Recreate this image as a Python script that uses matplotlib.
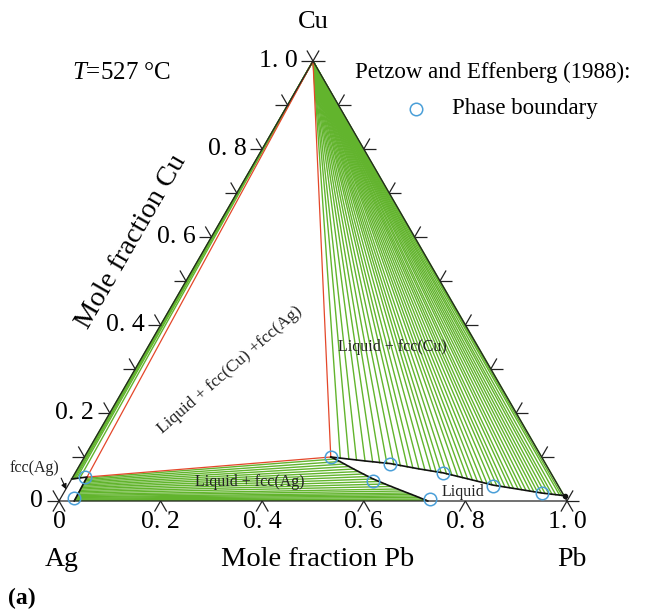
import numpy as np
import matplotlib
matplotlib.use('Agg')
import matplotlib.pyplot as plt

plt.rcParams['font.family'] = ['Liberation Serif', 'DejaVu Serif']
plt.rcParams['mathtext.fontset'] = 'custom'
plt.rcParams['mathtext.rm'] = 'Liberation Serif'
plt.rcParams['mathtext.it'] = 'Liberation Serif:italic'

# ---------------- data (mole fractions: x_Pb, x_Cu) ----------------
# three-phase triangle Liquid + fcc(Cu) + fcc(Ag)
tri3_pb = [0.0, 0.028, 0.485, 0.0]
tri3_cu = [1.0, 0.0545, 0.100, 1.0]

# Liquid + fcc(Cu) tie lines: liquid ends (fcc(Cu) end = pure Cu)
tieLC_pb = [0.505, 0.523, 0.539, 0.557, 0.573, 0.588, 0.603, 0.618, 0.632, 0.647,
            0.659, 0.672, 0.685, 0.698, 0.709, 0.720, 0.732, 0.744, 0.757, 0.768,
            0.779, 0.790, 0.801, 0.812, 0.823, 0.834, 0.844, 0.853, 0.862, 0.872,
            0.880, 0.890, 0.898, 0.907, 0.916, 0.924, 0.932, 0.940, 0.948, 0.956,
            0.963, 0.971, 0.979, 0.984, 0.989]
tieLC_cu = [0.0975, 0.0952, 0.0932, 0.0909, 0.0889, 0.0868, 0.0850, 0.0825, 0.0800, 0.0775,
            0.0752, 0.0730, 0.0707, 0.0684, 0.0664, 0.0643, 0.0618, 0.0589, 0.0559, 0.0530,
            0.0505, 0.0477, 0.0450, 0.0423, 0.0395, 0.0368, 0.0352, 0.0334, 0.0318, 0.0302,
            0.0289, 0.0273, 0.0259, 0.0243, 0.0227, 0.0214, 0.0200, 0.0186, 0.0173, 0.0164,
            0.0152, 0.0141, 0.0130, 0.0123, 0.0114]

# fcc(Cu) + fcc(Ag) tie lines: fcc(Ag) ends (fcc(Cu) end = pure Cu)
tieCA_pb = [0.000, 0.002, 0.004, 0.006, 0.009, 0.015]
tieCA_cu = [0.0500, 0.0502, 0.0505, 0.0508, 0.0515, 0.0524]

# Liquid + fcc(Ag) tie lines: liquid ends and fcc(Ag) ends
tieLA_liq_pb = [0.495, 0.508, 0.520, 0.532, 0.544, 0.556, 0.569, 0.581, 0.594, 0.608,
                0.623, 0.638, 0.653, 0.665, 0.677, 0.687, 0.696, 0.705, 0.714, 0.722]
tieLA_liq_cu = [0.0955, 0.0898, 0.0841, 0.0784, 0.0727, 0.0670, 0.0614, 0.0557, 0.0500, 0.0443,
                0.0386, 0.0330, 0.0273, 0.0227, 0.0182, 0.0148, 0.0114, 0.0080, 0.0045, 0.0018]
tieLA_sol_pb = [0.028, 0.028, 0.028, 0.028, 0.029, 0.029, 0.029, 0.029, 0.029, 0.029,
                0.029, 0.029, 0.029, 0.030, 0.030, 0.030, 0.030, 0.030, 0.030, 0.030]
tieLA_sol_cu = [0.0520, 0.0489, 0.0458, 0.0427, 0.0396, 0.0365, 0.0335, 0.0304, 0.0273, 0.0241,
                0.0210, 0.0180, 0.0149, 0.0124, 0.0099, 0.0081, 0.0062, 0.0044, 0.0025, 0.0010]

# phase boundaries
liq_upper_pb = [0.485, 0.557, 0.610, 0.672, 0.724, 0.779, 0.837, 0.890, 0.942, 0.990]
liq_upper_cu = [0.100, 0.091, 0.085, 0.073, 0.064, 0.0505, 0.036, 0.027, 0.018, 0.012]
liq_lower_pb = [0.485, 0.508, 0.534, 0.556, 0.591, 0.608, 0.630, 0.659, 0.696, 0.726]
liq_lower_cu = [0.100, 0.0898, 0.0773, 0.0670, 0.0511, 0.0443, 0.0358, 0.0250, 0.0114, 0.0]
fccAg_pb = [0.0, 0.028, 0.030]
fccAg_cu = [0.050, 0.0545, 0.0]

# experimental phase boundary points (Petzow and Effenberg, 1988)
exp_pb = [0.485, 0.609, 0.724, 0.837, 0.942, 0.595, 0.728, 0.024, 0.026]
exp_cu = [0.100, 0.0852, 0.0636, 0.0341, 0.0182, 0.0455, 0.0045, 0.0545, 0.0068]

# axes ticks
cu_ticks = [0.0, 0.1, 0.2, 0.3, 0.4, 0.5, 0.6, 0.7, 0.8, 0.9, 1.0]
cu_labels = {0.0: '0', 0.2: '0. 2', 0.4: '0. 4', 0.6: '0. 6', 0.8: '0. 8', 1.0: '1. 0'}
pb_ticks = [0.0, 0.2, 0.4, 0.6, 0.8, 1.0]
pb_labels = ['0', '0. 2', '0. 4', '0. 6', '0. 8', '1. 0']

# ---------------- styles ----------------
GREEN = '#62b42d'
RED = '#e4472a'
BLUE = '#4a9fd8'
S3 = np.sqrt(3) / 2


def tern(pb, cu):
    pb = np.asarray(pb, float)
    cu = np.asarray(cu, float)
    return pb + cu / 2.0, cu * S3


fig = plt.figure(figsize=(6.46, 6.09), dpi=100)
ax = fig.add_axes([0, 0, 1, 1])
ax.set_xlim(-59 / 508, 587 / 508)
ax.set_ylim(-108 / 508, 501 / 508)
ax.axis('off')

# tie lines
cx, cy = tern(0.0, 1.0)
for p, c in zip(tieLC_pb, tieLC_cu):
    x, y = tern(p, c)
    ax.plot([cx, x], [cy, y], color=GREEN, lw=1.0, zorder=2)
for p, c in zip(tieCA_pb, tieCA_cu):
    x, y = tern(p, c)
    ax.plot([cx, x], [cy, y], color=GREEN, lw=1.0, zorder=2)
for pl, cl, ps, cs in zip(tieLA_liq_pb, tieLA_liq_cu, tieLA_sol_pb, tieLA_sol_cu):
    x1, y1 = tern(ps, cs)
    x2, y2 = tern(pl, cl)
    ax.plot([x1, x2], [y1, y2], color=GREEN, lw=1.0, zorder=2)

# three-phase triangle
x, y = tern(tri3_pb, tri3_cu)
ax.plot(x, y, color=RED, lw=0.9, zorder=3)

# boundaries
for bp, bc in [(liq_upper_pb, liq_upper_cu), (liq_lower_pb, liq_lower_cu), (fccAg_pb, fccAg_cu)]:
    x, y = tern(bp, bc)
    ax.plot(x, y, color='#111111', lw=1.2, zorder=4)
x, y = tern(liq_upper_pb[-1], liq_upper_cu[-1])
ax.plot([x], [y], marker='o', color='#111111', ms=3, zorder=5)

# triangle frame
x, y = tern([0, 1, 0, 0], [0, 0, 1, 0])
ax.plot(x, y, color='#222222', lw=0.9, zorder=4)

# experimental points
x, y = tern(exp_pb, exp_cu)
ax.plot(x, y, 'o', ms=9, mfc='none', mec=BLUE, mew=1.1, zorder=6)

# ticks
L = 0.024
def tick(px, py, angles):
    for a in angles:
        r = np.deg2rad(a)
        ax.plot([px, px + L * np.cos(r)], [py, py + L * np.sin(r)],
                color='#222222', lw=0.9, zorder=5, solid_capstyle='butt')

for c in cu_ticks:
    # left axis (Ag-Cu edge)
    x, y = tern(0.0, c)
    tick(x, y, [180, 120])
    if c in cu_labels:
        ax.text(x - 0.031, y, cu_labels[c], ha='right', va='center', fontsize=18.5)
    # right axis (Pb-Cu edge)
    x, y = tern(1.0 - c, c)
    tick(x, y, [0, 60])
for p, lab in zip(pb_ticks, pb_labels):
    x, y = tern(p, 0.0)
    tick(x, y, [240, 300])
    ax.text(x, -0.042, lab, ha='center', va='center', fontsize=18.5)

# axis titles and corner labels
ax.text(0.5, 0.943, 'Cu', ha='center', va='center', fontsize=19)
ax.text(0.006, -0.116, 'Ag', ha='center', va='center', fontsize=20)
ax.text(1.010, -0.116, 'Pb', ha='center', va='center', fontsize=20)
ax.text(0.510, -0.116, 'Mole fraction Pb', ha='center', va='center', fontsize=20.5)
ax.text(0.142, 0.510, 'Mole fraction Cu', ha='center', va='center', fontsize=20.5,
        rotation=60, rotation_mode='anchor')
ax.text(-0.100, -0.191, '(a)', ha='left', va='center', fontsize=17, fontweight='bold')

ax.text(0.026, 0.843, r'$T$=527 °C', ha='left', va='center', fontsize=18)
ax.text(0.583, 0.843, 'Petzow and Effenberg (1988):', ha='left', va='center', fontsize=16.5)
ax.plot([0.703], [0.772], 'o', ms=9, mfc='none', mec=BLUE, mew=1.1)
ax.text(0.774, 0.772, 'Phase boundary', ha='left', va='center', fontsize=16.5)

# region labels
ax.text(0.337, 0.258, 'Liquid + fcc(Cu) +fcc(Ag)', ha='center', va='center', fontsize=12.5,
        rotation=41, rotation_mode='anchor', color='#222222')
ax.text(0.657, 0.303, 'Liquid + fcc(Cu)', ha='center', va='center', fontsize=11.5, color='#222222', zorder=7)
ax.text(0.376, 0.037, 'Liquid + fcc(Ag)', ha='center', va='center', fontsize=11.5, color='#222222', zorder=7)
ax.text(0.795, 0.018, 'Liquid', ha='center', va='center', fontsize=11.5, color='#222222', zorder=7)
ax.text(-0.049, 0.065, 'fcc(Ag)', ha='center', va='center', fontsize=11.5, color='#222222')
ax.annotate('', xy=(0.0167, 0.0177), xytext=(0.002, 0.050),
            arrowprops=dict(arrowstyle='-|>', color='#111111', lw=0.8, mutation_scale=8))

fig.savefig('out.png', dpi=100)
